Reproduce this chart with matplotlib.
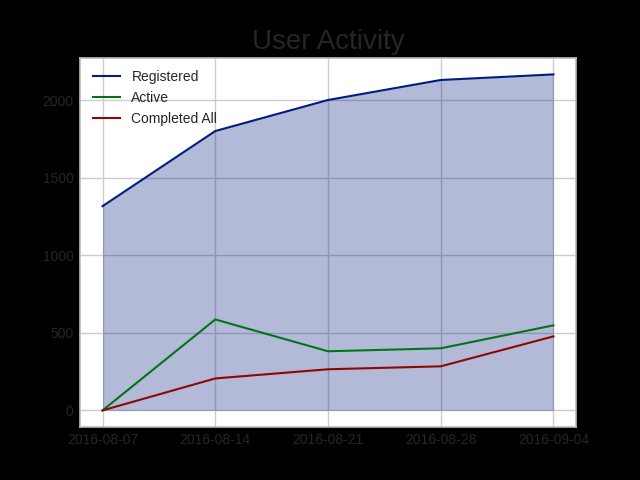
import numpy as np
import matplotlib
matplotlib.use("Agg")
import matplotlib.pyplot as plt
import matplotlib.dates as mdates

dates = np.array(["2016-08-07", "2016-08-14", "2016-08-21", "2016-08-28", "2016-09-04"], dtype="datetime64[D]")
registered = [1316, 1800, 2000, 2129, 2165]
active = [0, 586, 381, 400, 548]
completed = [0, 206, 265, 284, 477]

text_c = "#262626"
plt.rcParams["font.family"] = ["Liberation Sans", "DejaVu Sans"]
plt.rcParams["text.color"] = text_c
plt.rcParams["xtick.color"] = text_c
plt.rcParams["ytick.color"] = text_c

fig = plt.figure(figsize=(6.4, 4.8), dpi=100, facecolor="black")
ax = fig.add_subplot(111)
ax.set_facecolor("white")

blue, green, red = "#001c7f", "#017517", "#8c0800"
ax.plot(dates, registered, color=blue, lw=1.5, label="Registered")
ax.fill_between(dates, registered, color=blue, alpha=0.3, lw=0)
ax.plot(dates, active, color=green, lw=1.5, label="Active")
ax.plot(dates, completed, color=red, lw=1.5, label="Completed All")

ax.set_xticks(dates)
ax.xaxis.set_major_formatter(mdates.DateFormatter("%Y-%m-%d"))
ax.set_yticks([0, 500, 1000, 1500, 2000])
ax.grid(True, color="#cccccc", lw=1)
ax.set_axisbelow(True)
ax.tick_params(length=0, labelsize=10, pad=4.5)
for s in ax.spines.values():
    s.set_color("#bbbbbb")
    s.set_linewidth(1.2)

ax.set_title("User Activity", fontsize=20, color=text_c)
ax.legend(loc="upper left", frameon=False, fontsize=10)

fig.savefig("out.png", dpi=100, facecolor=fig.get_facecolor())
